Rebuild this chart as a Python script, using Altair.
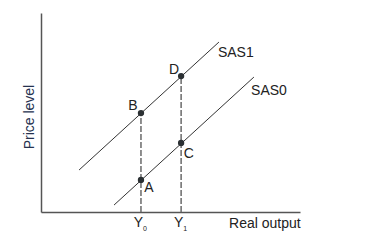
import altair as alt
import pandas as pd

# Curves (data units: x 0-10, y 0-10)
sas0_x = [2.82, 8.22]
sas0_y = [0.35, 6.78]
sas1_x = [1.47, 6.87]
sas1_y = [2.11, 8.54]

# Equilibrium points
pt_names = ["A", "B", "C", "D"]
pt_x = [3.86, 3.86, 5.41, 5.41]
pt_y = [1.61, 4.97, 3.47, 6.83]
lab_x = [4.17, 3.55, 5.71, 5.14]
lab_y = [1.21, 5.33, 2.91, 7.14]

# Output levels
out_names = ["Y", "Y"]
out_sub = ["0", "1"]
out_x = [3.86, 5.41]
out_top = [4.97, 6.83]

curve_names = ["SAS1", "SAS0"]
curve_lab_x = [6.83, 8.11]
curve_lab_y = [7.99, 6.08]

FONT = "Liberation Sans"
TXT = "#222222"

xs = alt.Scale(domain=[0, 10], nice=False, zero=False)
ys = alt.Scale(domain=[0, 10], nice=False, zero=False)

curves = pd.DataFrame({
    "x": sas0_x + sas1_x,
    "y": sas0_y + sas1_y,
    "curve": ["SAS0", "SAS0", "SAS1", "SAS1"],
})
pts = pd.DataFrame({"name": pt_names, "x": pt_x, "y": pt_y, "lx": lab_x, "ly": lab_y})
outs = pd.DataFrame({"name": out_names, "sub": out_sub, "x": out_x, "top": out_top, "zero": [0, 0]})
clabs = pd.DataFrame({"name": curve_names, "x": curve_lab_x, "y": curve_lab_y})

ax_x = alt.Axis(title=None, labels=False, ticks=False, grid=False, domainColor="#555555", domainWidth=1.5)
ax_y = alt.Axis(title=None, labels=False, ticks=False, grid=False, domainColor="#555555", domainWidth=1.5)

base_axes = alt.Chart(curves).mark_line(color="#333333", strokeWidth=1).encode(
    x=alt.X("x:Q", scale=xs, axis=ax_x),
    y=alt.Y("y:Q", scale=ys, axis=ax_y),
    detail="curve:N",
)

dashes = alt.Chart(outs).mark_rule(color="#6a6a6a", strokeWidth=1.5, strokeDash=[6, 2]).encode(
    x=alt.X("x:Q", scale=xs),
    y=alt.Y("zero:Q", scale=ys),
    y2="top:Q",
)

dots = alt.Chart(pts).mark_circle(color="#2b3033", opacity=1, size=40).encode(
    x=alt.X("x:Q", scale=xs),
    y=alt.Y("y:Q", scale=ys),
)

pt_labels = alt.Chart(pts).mark_text(font=FONT, fontSize=14, color=TXT).encode(
    x=alt.X("lx:Q", scale=xs),
    y=alt.Y("ly:Q", scale=ys),
    text="name:N",
)

curve_labels = alt.Chart(clabs).mark_text(font=FONT, fontSize=14, color=TXT, align="left").encode(
    x=alt.X("x:Q", scale=xs),
    y=alt.Y("y:Q", scale=ys),
    text="name:N",
)

y_main = alt.Chart(outs).mark_text(font=FONT, fontSize=14, color=TXT, dx=-2.5, dy=11).encode(
    x=alt.X("x:Q", scale=xs),
    y=alt.Y("zero:Q", scale=ys),
    text="name:N",
)
y_sub = alt.Chart(outs).mark_text(font=FONT, fontSize=7, color=TXT, dx=4, dy=17).encode(
    x=alt.X("x:Q", scale=xs),
    y=alt.Y("zero:Q", scale=ys),
    text="sub:N",
)

axis_titles = pd.DataFrame({"t": ["Real output"], "x": [7.26], "y": [-0.6]})
xt = alt.Chart(axis_titles).mark_text(font=FONT, fontSize=14, color=TXT, align="left").encode(
    x=alt.X("x:Q", scale=xs), y=alt.Y("y:Q", scale=ys), text="t:N"
)
ytitle = pd.DataFrame({"t": ["Price level"], "x": [-0.42], "y": [4.77]})
yt = alt.Chart(ytitle).mark_text(font=FONT, fontSize=14, color="#26324f", angle=270).encode(
    x=alt.X("x:Q", scale=xs), y=alt.Y("y:Q", scale=ys), text="t:N"
)

chart = alt.layer(base_axes, dashes, dots, pt_labels, curve_labels, y_main, y_sub, xt, yt).properties(
    width=259, height=199,
    background="white",
    autosize=alt.AutoSizeParams(type="none"),
    padding={"left": 41, "top": 13, "right": 87, "bottom": 39},
).configure_view(stroke=None)

chart.save("out.html", embed_options={"renderer": "svg", "actions": False})
